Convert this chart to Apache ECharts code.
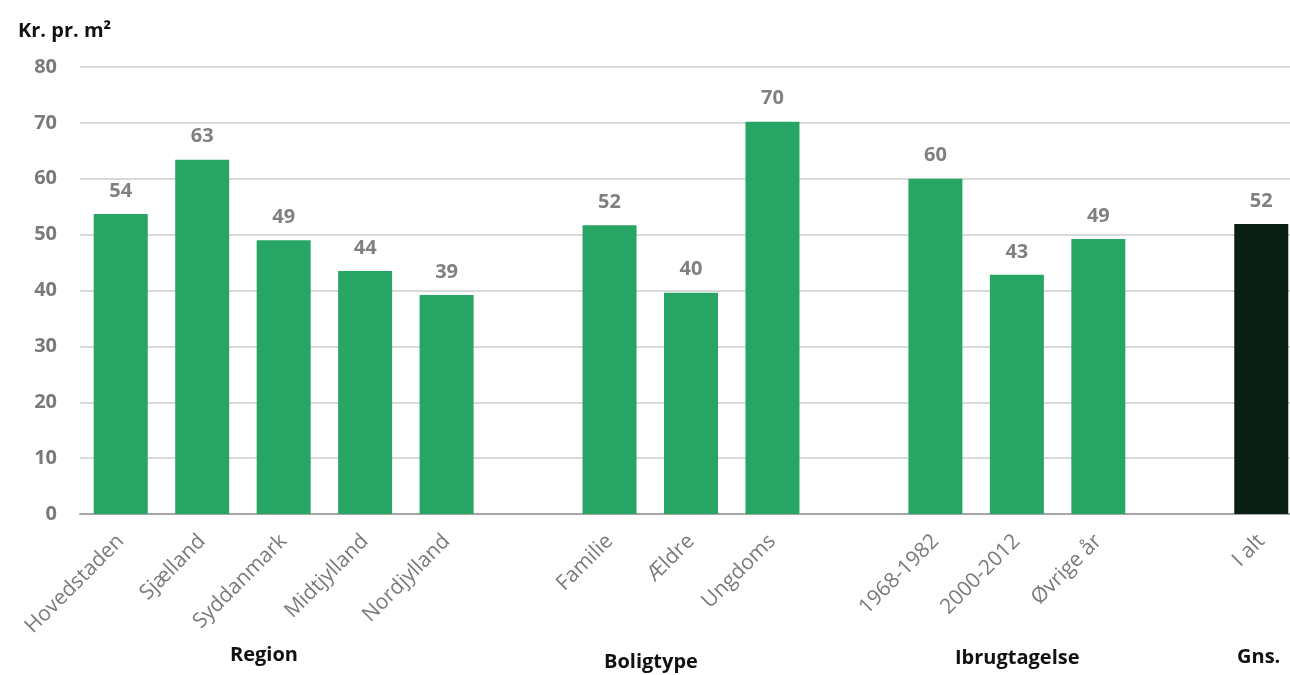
<!DOCTYPE html>
<html>
<head>
<meta charset="utf-8">
<script src="https://cdn.jsdelivr.net/npm/echarts@6/dist/echarts.min.js"></script>
<style>html,body{margin:0;padding:0;background:#fff;overflow:hidden}#c{width:1302px;height:675px}</style>
</head>
<body>
<div id="c"></div>
<script>
const categories = ['Hovedstaden','Sjælland','Syddanmark','Midtjylland','Nordjylland','',
  'Familie','Ældre','Ungdoms','',
  '1968-1982','2000-2012','Øvrige år','',
  'I alt'];
const values = [53.7, 63.4, 49.0, 43.5, 39.2, null,
  51.7, 39.6, 70.2, null,
  60.0, 42.8, 49.2, null,
  51.9];
const totalIndex = 14;
const groupLabels = ['Region','Boligtype','Ibrugtagelse','Gns.'];
const yTicks = [0, 80, 10];

const green = '#27a564';
const dark = '#0a1f13';
const font = 'Open Sans';

const chart = echarts.init(document.getElementById('c'));
const data = values.map((v, i) => ({
  value: v,
  itemStyle: { color: i === totalIndex ? dark : green }
}));
const groupStyle = { fontSize: 20, fontWeight: 'bold', fill: '#111', fontFamily: font };
chart.setOption({
  animation: false,
  textStyle: { fontFamily: font },
  grid: { left: 80, right: 0, top: 67, bottom: 161, containLabel: false },
  xAxis: {
    type: 'category',
    data: categories,
    axisTick: { show: false },
    axisLine: { lineStyle: { color: '#a6a6a6', width: 2 } },
    axisLabel: { rotate: 45, interval: 0, color: '#7a7a7a', fontSize: 21, margin: 24, fontFamily: font }
  },
  yAxis: {
    type: 'value',
    min: yTicks[0], max: yTicks[1], interval: yTicks[2],
    name: 'Kr. pr. m²',
    nameLocation: 'end',
    nameGap: 0,
    nameTextStyle: { color: '#111', fontSize: 20, fontWeight: 'bold', align: 'left', padding: [0, 0, 26, -62], fontFamily: font },
    axisLine: { show: false },
    axisTick: { show: false },
    splitLine: { lineStyle: { color: '#d9d9d9', width: 2 } },
    axisLabel: { color: '#7a7a7a', fontSize: 20, fontWeight: 'bold', margin: 23, fontFamily: font }
  },
  series: [{
    type: 'bar',
    data: data,
    barWidth: 54,
    label: {
      show: true,
      position: 'top',
      distance: 13,
      color: '#808080',
      fontSize: 20,
      fontWeight: 'bold',
      fontFamily: font,
      formatter: p => p.value == null ? '' : Math.round(p.value)
    }
  }],
  graphic: [
    { type: 'text', left: 230, top: 645, style: Object.assign({ text: groupLabels[0] }, groupStyle) },
    { type: 'text', left: 604, top: 652, style: Object.assign({ text: groupLabels[1] }, groupStyle) },
    { type: 'text', left: 955, top: 648, style: Object.assign({ text: groupLabels[2] }, groupStyle) },
    { type: 'text', left: 1237, top: 647, style: Object.assign({ text: groupLabels[3] }, groupStyle) }
  ]
});
</script>
</body>
</html>
